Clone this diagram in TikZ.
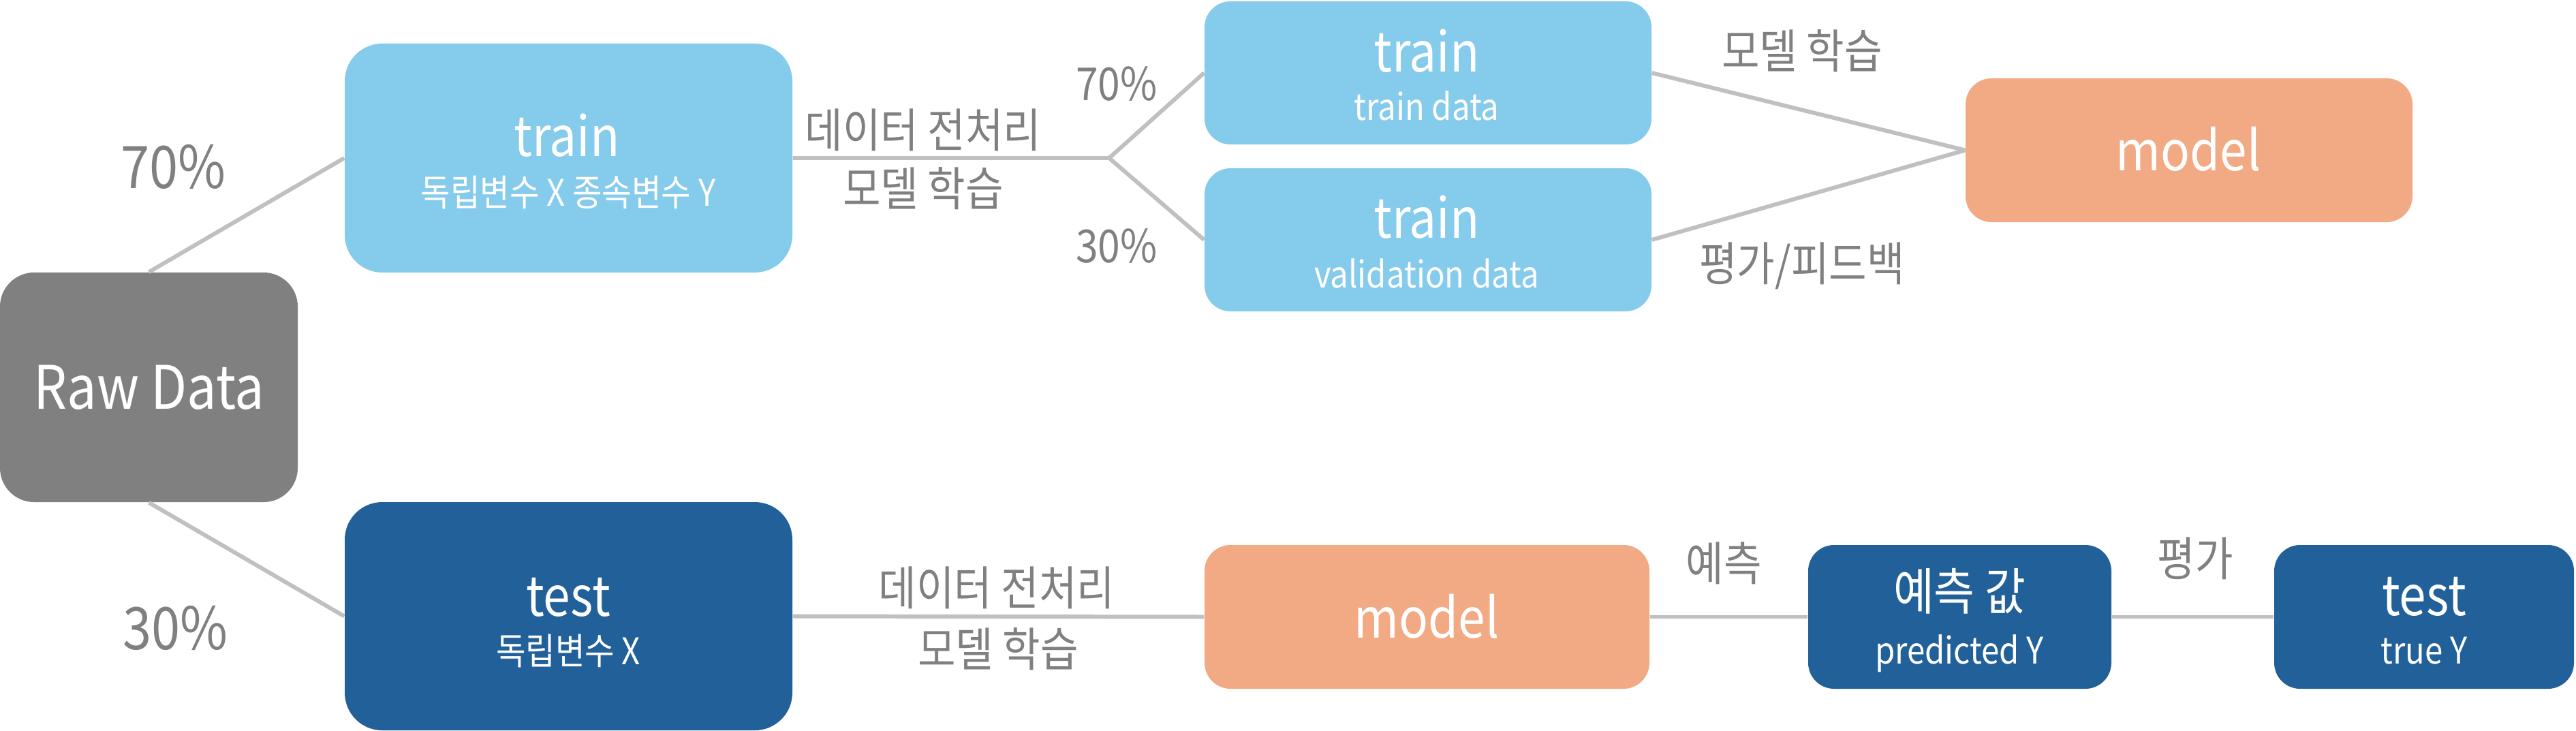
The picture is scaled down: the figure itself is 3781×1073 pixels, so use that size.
\documentclass[tikz,border=0pt]{standalone}
\usepackage{fontspec}
\setmainfont{Noto Sans CJK KR}[FakeStretch=0.88]
\definecolor{rawgray}{RGB}{128,128,128}
\definecolor{lightblue}{RGB}{133,203,235}
\definecolor{darkblue}{RGB}{34,96,154}
\definecolor{peach}{RGB}{242,170,132}
\definecolor{cablegray}{RGB}{192,192,192}
\definecolor{labelgray}{RGB}{128,128,128}
\tikzset{
  bx/.style 2 args={minimum width=#1*0.01cm, minimum height=#2*0.01cm, inner sep=0pt, draw=none, rounded corners=0.38cm},
  cable/.style={draw=cablegray, line width=1.7pt},
  lbl/.style={inner sep=0pt, text=labelgray, font=\fontsize{19.5}{22}\selectfont},
  pct/.style={inner sep=0pt, text=labelgray, anchor=base},
  wt/.style={inner sep=0pt, text=white, anchor=base},
  big/.style={font=\fontsize{23}{26}\selectfont},
  small/.style={font=\fontsize{15.3}{18}\selectfont}
}
\begin{document}
\begin{tikzpicture}[x=0.01cm,y=-0.01cm]
\useasboundingbox (0,0) rectangle (3781,1073);
% boxes
\node[bx={437}{337}, fill=rawgray, rounded corners=0.5cm] (raw) at (218.5,568.5) {};
\node[bx={657}{336}, fill=lightblue, rounded corners=0.55cm] (tr) at (834.5,232) {};
\node[bx={657}{335}, fill=darkblue, rounded corners=0.55cm] (te) at (834.5,904.5) {};
\node[bx={656}{210}, fill=lightblue] (tra) at (2096,107) {};
\node[bx={656}{210}, fill=lightblue] (trb) at (2096,352) {};
\node[bx={656}{211}, fill=peach] (m1) at (3213,220.5) {};
\node[bx={653}{211}, fill=peach] (m2) at (2094.5,905.5) {};
\node[bx={445}{211}, fill=darkblue] (pr) at (2876.5,905.5) {};
\node[bx={440}{211}, fill=darkblue] (ty) at (3558,905.5) {};
% connectors
\coordinate (br) at (1628,232);
\draw[cable] (raw.north) -- (tr.west);
\draw[cable] (raw.south) -- (te.west);
\draw[cable] (tr.east) -- (br) -- (tra.west);
\draw[cable] (br) -- (trb.west);
\draw[cable] (tra.east) -- (m1.west);
\draw[cable] (trb.east) -- (m1.west);
\draw[cable] (te.east) -- (m2.west);
\draw[cable] (m2.east) -- (pr.west);
\draw[cable] (pr.east) -- (ty.west);
% box texts
\node[wt, font=\fontsize{25}{28}\selectfont] (rawt) at (219,600) {Raw Data};
\node[wt, big] (trt) at (832,230) {train};
\node[wt, small] (trs) at (834,302) {독립변수 X 종속변수 Y};
\node[wt, big] (tet) at (834,904) {test};
\node[wt, small] (tes) at (834,975) {독립변수 X};
\node[wt, big] (trat) at (2094,106) {train};
\node[wt, small] (tras) at (2094,177) {train data};
\node[wt, big] (trbt) at (2094,350) {train};
\node[wt, small] (trbs) at (2094,422) {validation data};
\node[wt, big] (m1t) at (3212,251) {model};
\node[wt, big] (m2t) at (2094,936) {model};
\node[wt, font=\fontsize{21}{24}\selectfont] (prt) at (2876,895) {예측 값};
\node[wt, small] (prs) at (2876,974) {predicted Y};
\node[wt, big] (tyt) at (3558,903) {test};
\node[wt, small] (tys) at (3558,974) {true Y};
% percentages
\node[pct, font=\fontsize{24.5}{27}\selectfont] (p70a) at (254,277) {70\%};
\node[pct, font=\fontsize{24.5}{27}\selectfont] (p30a) at (257,953) {30\%};
\node[pct, font=\fontsize{19}{21}\selectfont] (p70b) at (1639,148) {70\%};
\node[pct, font=\fontsize{19}{21}\selectfont] (p30b) at (1639,385) {30\%};
% edge labels
\node[lbl] (l1) at (1355,191) {데이터 전처리};
\node[lbl] (l2) at (1355,277) {모델 학습};
\node[lbl] (l3) at (2645,75) {모델 학습};
\node[lbl] (l4) at (2645,390) {평가/피드백};
\node[lbl] (l5) at (1463,863) {데이터 전처리};
\node[lbl] (l6) at (1465,953) {모델 학습};
\node[lbl] (l7) at (2530,827) {예측};
\node[lbl] (l8) at (3222,820) {평가};
\end{tikzpicture}
\end{document}
